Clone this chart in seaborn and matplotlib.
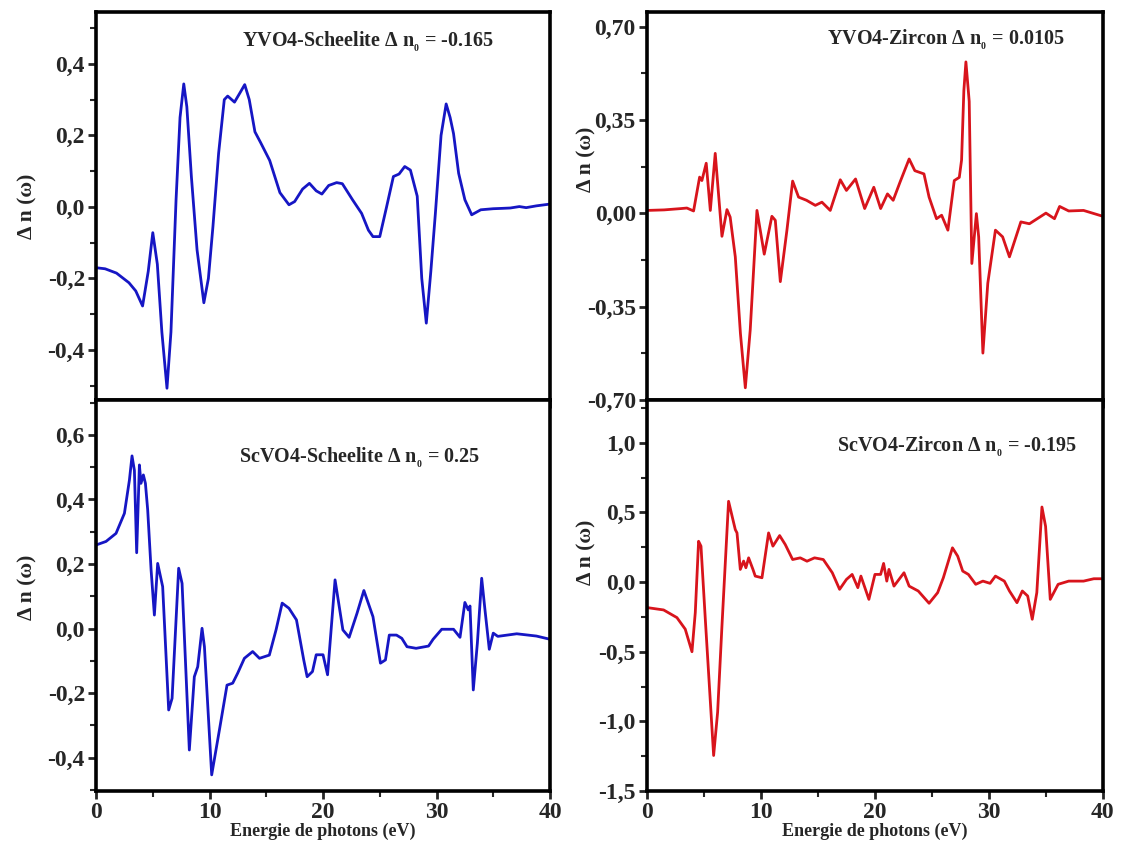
import numpy as np
import pandas as pd
import matplotlib
matplotlib.use('Agg')
import matplotlib.pyplot as plt
import seaborn as sns
from matplotlib.ticker import MultipleLocator, FuncFormatter

# ---------------- data ----------------
yvo4_sch_E = [0, 0.8, 1.8, 2.9, 3.5, 4.1, 4.6, 5.0, 5.4, 5.8, 6.25, 6.6, 7.05, 7.4, 7.73, 8.0,
              8.4, 8.9, 9.5, 9.9, 10.3, 10.8, 11.3, 11.6, 12.2, 12.7, 13.1, 13.5, 14.0, 14.5,
              15.3, 16.2, 17.0, 17.5, 18.2, 18.8, 19.4, 19.9, 20.5, 21.2, 21.7, 22.6, 23.4,
              24.0, 24.4, 25.0, 25.6, 26.2, 26.7, 27.2, 27.7, 28.3, 28.7, 29.1, 29.5, 29.9,
              30.4, 30.85, 31.2, 31.5, 31.95, 32.5, 33.1, 33.9, 35.0, 35.8, 36.5, 37.3, 37.9,
              38.8, 40.0]
yvo4_sch_dn = [-0.170, -0.173, -0.185, -0.212, -0.235, -0.277, -0.18, -0.072, -0.16, -0.35,
               -0.507, -0.35, 0.02, 0.25, 0.344, 0.28, 0.085, -0.12, -0.268, -0.20, -0.055,
               0.15, 0.30, 0.31, 0.293, 0.32, 0.342, 0.30, 0.21, 0.18, 0.13, 0.04, 0.006, 0.015,
               0.05, 0.066, 0.045, 0.036, 0.06, 0.068, 0.065, 0.02, -0.018, -0.065, -0.083,
               -0.083, 0.0, 0.085, 0.092, 0.113, 0.103, 0.03, -0.20, -0.325, -0.18, -0.018,
               0.20, 0.288, 0.25, 0.205, 0.094, 0.02, -0.022, -0.008, -0.005, -0.004, -0.003,
               0.001, -0.002, 0.003, 0.008]

yvo4_zir_E = [0, 1.5, 3.0, 3.5, 4.09, 4.62, 4.82, 5.2, 5.56, 5.99, 6.58, 7.02, 7.3, 7.75, 8.2,
              8.63, 9.06, 9.65, 10.29, 10.96, 11.26, 11.7, 12.28, 12.78, 13.3, 14.0, 14.77,
              15.35, 16.08, 16.96, 17.5, 18.3, 19.1, 19.9, 20.5, 21.1, 21.6, 22.2, 23.0, 23.5,
              24.3, 24.75, 25.4, 25.85, 26.4, 26.96, 27.4, 27.6, 27.8, 27.98, 28.27, 28.5, 28.9,
              29.1, 29.47, 29.9, 30.57, 31.2, 31.8, 32.8, 33.55, 35.0, 35.75, 36.2, 37.0, 38.3,
              40.0]
yvo4_zir_dn = [0.011, 0.013, 0.018, 0.02, 0.009, 0.136, 0.123, 0.188, 0.011, 0.225, -0.086,
               0.014, -0.014, -0.163, -0.45, -0.654, -0.437, 0.011, -0.153, -0.011, -0.026,
               -0.256, -0.063, 0.121, 0.061, 0.049, 0.030, 0.042, 0.011, 0.126, 0.086, 0.129,
               0.018, 0.098, 0.018, 0.073, 0.049, 0.117, 0.204, 0.160, 0.148, 0.061, -0.020,
               -0.007, -0.063, 0.123, 0.135, 0.2, 0.46, 0.568, 0.42, -0.188, -0.001, -0.088,
               -0.524, -0.262, -0.063, -0.088, -0.163, -0.032, -0.039, 0.001, -0.020, 0.026,
               0.009, 0.011, -0.011]

scvo4_sch_E = [0, 0.88, 1.76, 2.5, 2.94, 3.17, 3.38, 3.58, 3.82, 3.96, 4.17, 4.35, 4.55, 4.85,
               5.14, 5.43, 5.87, 6.4, 6.7, 7.28, 7.58, 8.22, 8.66, 8.96, 9.34, 9.55, 10.19,
               10.87, 11.54, 12.04, 12.48, 13.07, 13.8, 14.4, 15.27, 15.86, 16.4, 17.0, 17.66,
               18.3, 18.6, 19.07, 19.4, 20.0, 20.4, 21.06, 21.75, 22.3, 23.0, 23.6, 24.4, 25.06,
               25.5, 25.84, 26.47, 26.94, 27.4, 28.2, 29.3, 29.7, 30.46, 31.5, 32.07, 32.5,
               32.8, 32.95, 33.24, 33.6, 33.98, 34.27, 34.65, 35.0, 35.4, 37.07, 38.8, 40.0]
scvo4_sch_dn = [0.259, 0.27, 0.295, 0.357, 0.46, 0.535, 0.49, 0.235, 0.507, 0.45, 0.476, 0.45,
                0.368, 0.182, 0.042, 0.202, 0.13, -0.252, -0.216, 0.187, 0.14, -0.376, -0.149,
                -0.118, 0.001, -0.056, -0.453, -0.314, -0.175, -0.169, -0.138, -0.092, -0.071,
                -0.092, -0.082, -0.004, 0.079, 0.063, 0.027, -0.097, -0.149, -0.133, -0.081,
                -0.081, -0.143, 0.151, -0.004, -0.027, 0.048, 0.118, 0.037, -0.107, -0.097,
                -0.02, -0.02, -0.03, -0.056, -0.061, -0.054, -0.033, -0.002, -0.002, -0.027,
                0.081, 0.058, 0.07, -0.19, -0.045, 0.156, 0.058, -0.064, -0.014, -0.024, -0.016,
                -0.023, -0.033]

scvo4_zir_E = [0, 1.46, 2.63, 3.36, 3.95, 4.24, 4.53, 4.74, 5.12, 5.85, 6.2, 6.58, 7.16, 7.54,
               7.75, 7.9, 8.19, 8.48, 8.68, 8.92, 9.3, 9.5, 10.09, 10.67, 11.05, 11.64, 12.13,
               12.78, 13.45, 14.04, 14.7, 15.47, 16.26, 16.9, 17.5, 18.0, 18.5, 18.77, 19.47,
               20.0, 20.5, 20.76, 21.04, 21.23, 21.67, 22.55, 23.0, 23.8, 24.75, 25.5, 26.0,
               26.8, 27.26, 27.7, 28.2, 28.84, 29.47, 30.1, 30.57, 31.35, 31.8, 32.46, 32.93,
               33.4, 33.8, 34.2, 34.65, 34.97, 35.38, 36.07, 37.0, 38.3, 39.2, 40.0]
scvo4_zir_dn = [-0.183, -0.2, -0.255, -0.338, -0.5, -0.219, 0.293, 0.258, -0.267, -1.245,
                -0.934, -0.315, 0.58, 0.449, 0.377, 0.353, 0.091, 0.151, 0.103, 0.174, 0.091,
                0.043, 0.031, 0.353, 0.258, 0.334, 0.27, 0.162, 0.174, 0.15, 0.174, 0.162,
                0.067, -0.052, 0.019, 0.055, -0.04, 0.043, -0.124, 0.055, 0.055, 0.134, 0.007,
                0.091, -0.029, 0.067, -0.029, -0.064, -0.152, -0.076, 0.031, 0.246, 0.186,
                0.079, 0.055, -0.016, 0.007, -0.009, 0.043, 0.007, -0.064, -0.148, -0.064,
                -0.1, -0.267, -0.076, 0.539, 0.4, -0.124, -0.016, 0.007, 0.007, 0.024, 0.024]

titles = [r"YVO4-Scheelite Δ n$_{_{0}}$ = -0.165",
          r"YVO4-Zircon Δ n$_{_{0}}$ = 0.0105",
          r"ScVO4-Scheelite Δ n$_{_{0}}$ = 0.25",
          r"ScVO4-Zircon Δ n$_{_{0}}$ = -0.195"]
y_label = "Δ n (ω)"
x_label = "Energie de photons (eV)"

# ---------------- style ----------------
sns.set_style('ticks')
plt.rcParams['font.family'] = ['Liberation Serif', 'DejaVu Serif']
plt.rcParams['font.weight'] = 'bold'
plt.rcParams['mathtext.fontset'] = 'custom'
plt.rcParams['mathtext.rm'] = 'Liberation Serif:bold'
plt.rcParams['mathtext.it'] = 'Liberation Serif:bold'
plt.rcParams['mathtext.bf'] = 'Liberation Serif:bold'

BLUE = '#1616c4'
RED = '#d8141c'

fig = plt.figure(figsize=(11.22, 8.47), dpi=100)

panels = [
    # data, rect, ylim, major, minor, decimals, color, title pos, ylabel coords, bottom
    (yvo4_sch_E, yvo4_sch_dn, [0.0856, 0.5277, 0.4046, 0.4581], (-0.54, 0.545), 0.2, 0.1, 1,
     BLUE, (0.60, 0.923), (-0.13, 0.5), False),
    (yvo4_zir_E, yvo4_zir_dn, [0.5766, 0.5277, 0.4064, 0.4581], (-0.70, 0.755), 0.35, 0.175, 2,
     RED, (0.655, 0.928), (-0.11, 0.62), False),
    (scvo4_sch_E, scvo4_sch_dn, [0.0856, 0.0661, 0.4046, 0.4616], (-0.503, 0.708), 0.2, 0.1, 1,
     BLUE, (0.58, 0.852), (-0.13, 0.52), True),
    (scvo4_zir_E, scvo4_zir_dn, [0.5766, 0.0661, 0.4064, 0.4616], (-1.5, 1.307), 0.5, 0.25, 1,
     RED, (0.68, 0.88), (-0.11, 0.61), True),
]

for i, (E, dn, rect, ylim, maj, mnr, dec, col, tpos, lpos, bottom) in enumerate(panels):
    ax = fig.add_axes(rect)
    df = pd.DataFrame({'E': E, 'dn': dn})
    sns.lineplot(data=df, x='E', y='dn', ax=ax, color=col, linewidth=2.0,
                 estimator=None, sort=False)
    ax.set_xlim(0, 40)
    ax.set_ylim(*ylim)
    ax.xaxis.set_major_locator(MultipleLocator(10))
    ax.xaxis.set_minor_locator(MultipleLocator(5))
    ax.yaxis.set_major_locator(MultipleLocator(maj))
    ax.yaxis.set_minor_locator(MultipleLocator(mnr))
    ax.yaxis.set_major_formatter(FuncFormatter(
        lambda v, p, d=dec: (f"{v:.{d}f}").replace('.', ',').replace('-0,' + '0' * d, '0,' + '0' * d)))
    ax.tick_params(axis='both', which='major', direction='out', length=6, width=2,
                   labelsize=17, top=False, right=False, pad=2)
    ax.tick_params(axis='both', which='minor', direction='out', length=4, width=1.5,
                   top=False, right=False)
    for lab in ax.get_xticklabels() + ax.get_yticklabels():
        lab.set_fontweight('bold')
    for s in ax.spines.values():
        s.set_linewidth(2.6)
        s.set_color('black')
    ax.grid(False)
    ax.set_ylabel(y_label, fontsize=15.5, fontweight='bold')
    ax.yaxis.set_label_coords(*lpos)
    if bottom:
        ax.set_xlabel(x_label, fontsize=13, fontweight='bold', labelpad=0)
    else:
        ax.set_xlabel('')
        ax.tick_params(axis='x', labelbottom=False)
    ax.text(tpos[0], tpos[1], titles[i], transform=ax.transAxes, ha='center', va='center',
            fontsize=14.5, fontweight='bold')

fig.savefig('out.png', dpi=100)
